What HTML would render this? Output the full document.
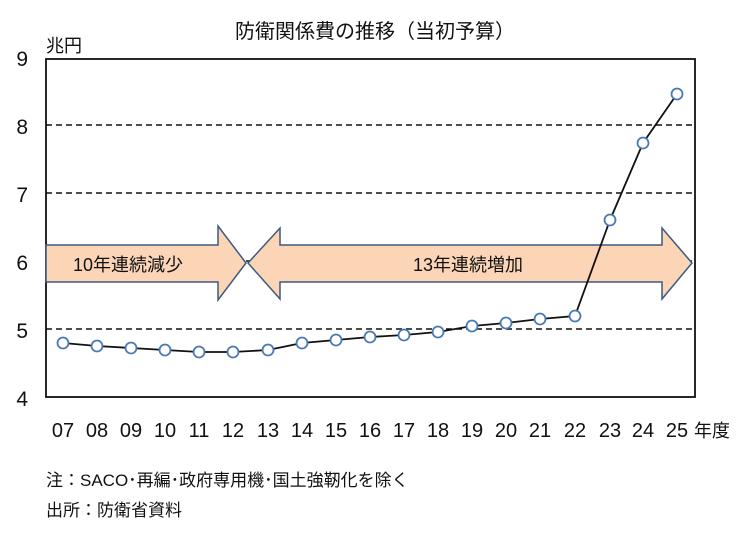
<!DOCTYPE html>
<html><head><meta charset="utf-8"><style>body{margin:0;background:#fff}</style></head><body>
<svg width="750" height="534" xmlns="http://www.w3.org/2000/svg" font-family="Liberation Sans, Noto Sans CJK JP, sans-serif">
<rect width="750" height="534" fill="#fff"/>
<text x="375" y="38" font-size="20" text-anchor="middle" fill="#111">防衛関係費の推移（当初予算）</text>
<text x="46" y="52" font-size="18" fill="#111">兆円</text>
<g stroke="#111" stroke-width="1.5" stroke-dasharray="6,4">
<line x1="46" y1="125" x2="695" y2="125"/><line x1="46" y1="193" x2="695" y2="193"/><line x1="46" y1="261" x2="695" y2="261"/><line x1="46" y1="329" x2="695" y2="329"/>
</g>
<rect x="46" y="59" width="649" height="338" fill="none" stroke="#111" stroke-width="1.8"/>
<g font-size="21" fill="#111" text-anchor="end">
<text x="28" y="66">9</text><text x="28" y="134">8</text><text x="28" y="202">7</text><text x="28" y="270">6</text><text x="28" y="338">5</text><text x="28" y="406">4</text>
</g>
<g fill="#fbd5b5" stroke="#3d5a80" stroke-width="1.5">
<polygon points="46,245 218,245 218,226 246,263 218,300 218,282 46,282"/>
<polygon points="248,263 280,228 280,245 662,245 662,228 692,263 662,299 662,282 280,282 280,299"/>
</g>
<text x="128" y="271" font-size="18" text-anchor="middle" fill="#111">10年連続減少</text>
<text x="468" y="271" font-size="18" text-anchor="middle" fill="#111">13年連続増加</text>
<polyline fill="none" stroke="#111" stroke-width="1.8" points="63,343 97,346 131,348 165,350 199,352 233,352 268,350 302,343 336,340 370,337 404,335 438,332 472,326 506,323 540,319 575,316 610,220 643,143 677,94"/>
<g fill="#fff" stroke="#4a7ab5" stroke-width="1.8">
<circle cx="63" cy="343" r="5.5"/><circle cx="97" cy="346" r="5.5"/><circle cx="131" cy="348" r="5.5"/><circle cx="165" cy="350" r="5.5"/><circle cx="199" cy="352" r="5.5"/><circle cx="233" cy="352" r="5.5"/><circle cx="268" cy="350" r="5.5"/><circle cx="302" cy="343" r="5.5"/><circle cx="336" cy="340" r="5.5"/><circle cx="370" cy="337" r="5.5"/><circle cx="404" cy="335" r="5.5"/><circle cx="438" cy="332" r="5.5"/><circle cx="472" cy="326" r="5.5"/><circle cx="506" cy="323" r="5.5"/><circle cx="540" cy="319" r="5.5"/><circle cx="575" cy="316" r="5.5"/><circle cx="610" cy="220" r="5.5"/><circle cx="643" cy="143" r="5.5"/><circle cx="677" cy="94" r="5.5"/>
</g>
<g font-size="20" fill="#111" text-anchor="middle">
<text x="63" y="437">07</text><text x="97" y="437">08</text><text x="131" y="437">09</text><text x="165" y="437">10</text><text x="199" y="437">11</text><text x="233" y="437">12</text><text x="268" y="437">13</text><text x="302" y="437">14</text><text x="336" y="437">15</text><text x="370" y="437">16</text><text x="404" y="437">17</text><text x="438" y="437">18</text><text x="472" y="437">19</text><text x="506" y="437">20</text><text x="540" y="437">21</text><text x="575" y="437">22</text><text x="610" y="437">23</text><text x="643" y="437">24</text><text x="677" y="437">25</text>
</g>
<text x="694" y="437" font-size="18" fill="#111">年度</text>
<text x="46" y="486" font-size="17" fill="#111">注：SACO･再編･政府専用機･国土強靭化を除く</text>
<text x="46" y="516" font-size="17" fill="#111">出所：防衛省資料</text>
</svg>
</body></html>
